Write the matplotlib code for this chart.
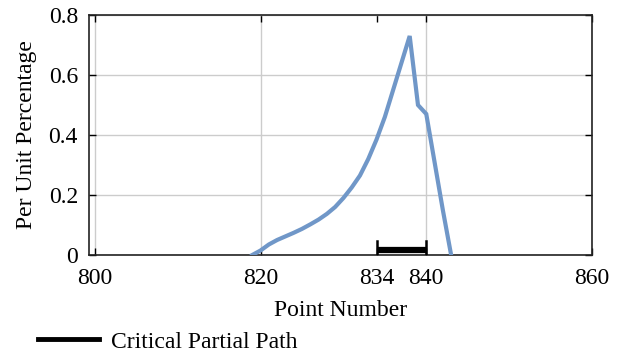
import matplotlib
matplotlib.use("Agg")
import matplotlib.pyplot as plt
from matplotlib.lines import Line2D

# series
point = [819, 820, 821, 822, 823, 824, 825, 826, 827, 828, 829, 830, 831,
         832, 833, 834, 835, 836, 837, 838, 839, 840, 841, 842, 843]
pu_pct = [0.0, 0.015, 0.035, 0.05, 0.062, 0.074, 0.087, 0.102, 0.118, 0.137,
          0.16, 0.19, 0.225, 0.265, 0.32, 0.385, 0.46, 0.55, 0.64, 0.73,
          0.50, 0.47, 0.31, 0.15, 0.0]
critical_path = [834, 840]
xtick_vals = [800, 820, 834, 840, 860]
ytick_vals = [0, 0.2, 0.4, 0.6, 0.8]
ytick_labels = ["0", "0.2", "0.4", "0.6", "0.8"]

plt.rcParams["font.family"] = ["Liberation Serif", "DejaVu Serif"]
FS = 17

fig = plt.figure(figsize=(6.18, 3.56), dpi=100)
ax = fig.add_axes([89 / 618, 1 - 255 / 356, (592 - 89) / 618, (255 - 15) / 356])

ax.plot(point, pu_pct, color="#7097c8", lw=3.0, solid_joinstyle="miter", zorder=3)

# critical partial path bracket
ax.plot(critical_path, [0.018, 0.018], color="black", lw=4.5, solid_capstyle="butt", zorder=4)
for xv in critical_path:
    ax.plot([xv, xv], [0.004, 0.046], color="black", lw=1.8, zorder=4)

ax.set_xlim(799.3, 860)
ax.set_ylim(0, 0.8)
ax.set_xticks(xtick_vals)
ax.set_yticks(ytick_vals)
ax.set_yticklabels(ytick_labels)
ax.grid(True, color="#cccccc", lw=1.0, zorder=0)
ax.get_xgridlines()[2].set_visible(False)
ax.tick_params(direction="in", length=5, width=1, top=True, right=True,
               labelsize=FS)
ax.tick_params(axis="x", pad=9)
ax.tick_params(axis="y", pad=8)
for s in ax.spines.values():
    s.set_linewidth(1.2)
    s.set_color("#222222")

ax.set_xlabel("Point Number", fontsize=FS, labelpad=8)
ax.set_ylabel("Per Unit Percentage", fontsize=FS, labelpad=8)

handle = Line2D([], [], color="black", lw=3.5)
fig.legend([handle], ["Critical Partial Path"], loc="lower left",
           bbox_to_anchor=(0.027, -0.05), frameon=False, fontsize=FS,
           handlelength=2.6, handletextpad=0.5)

fig.savefig("out.png", dpi=100)
